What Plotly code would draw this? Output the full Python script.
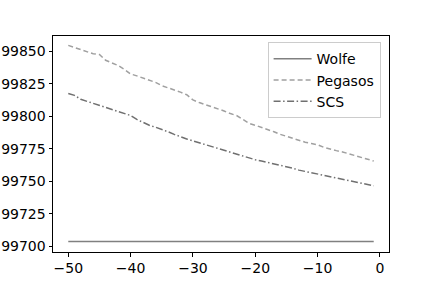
import plotly.graph_objects as go

x_vals = list(range(-50, 0))

wolfe = [0.997035] * 50

pegasos = [
    0.998545, 0.998530, 0.998515, 0.998495, 0.998480, 0.998475, 0.998430, 0.998410, 0.998390, 0.998360,
    0.998325, 0.998310, 0.998295, 0.998275, 0.998260, 0.998235, 0.998220, 0.998205, 0.998185, 0.998165,
    0.998125, 0.998105, 0.998090, 0.998075, 0.998055, 0.998040, 0.998020, 0.998005, 0.997975, 0.997945,
    0.997930, 0.997915, 0.997895, 0.997880, 0.997860, 0.997845, 0.997825, 0.997815, 0.997800, 0.997790,
    0.997780, 0.997760, 0.997745, 0.997735, 0.997725, 0.997710, 0.997695, 0.997680, 0.997670, 0.997655,
]

scs = [
    0.998175, 0.998160, 0.998130, 0.998115, 0.998100, 0.998085, 0.998070, 0.998055, 0.998040, 0.998025,
    0.998005, 0.997975, 0.997950, 0.997930, 0.997915, 0.997900, 0.997880, 0.997860, 0.997840, 0.997825,
    0.997810, 0.997795, 0.997780, 0.997765, 0.997750, 0.997735, 0.997720, 0.997710, 0.997695, 0.997680,
    0.997665, 0.997655, 0.997645, 0.997635, 0.997625, 0.997615, 0.997600, 0.997585, 0.997575, 0.997565,
    0.997555, 0.997545, 0.997530, 0.997520, 0.997510, 0.997500, 0.997490, 0.997480, 0.997475, 0.997465,
]

x_ticks = [-50, -40, -30, -20, -10, 0]
y_ticks = [0.99700, 0.99725, 0.99750, 0.99775, 0.99800, 0.99825, 0.99850]
# the reference shows only the trailing digits of the y tick labels
y_tick_labels = ["99700", "99725", "99750", "99775", "99800", "99825", "99850"]

fig = go.Figure()
fig.add_trace(go.Scatter(x=x_vals, y=wolfe, mode="lines", name="Wolfe",
                         line=dict(color="#808080", width=1.5, dash="solid")))
fig.add_trace(go.Scatter(x=x_vals, y=pegasos, mode="lines", name="Pegasos",
                         line=dict(color="#a0a0a0", width=1.5, dash="5px,3px")))
fig.add_trace(go.Scatter(x=x_vals, y=scs, mode="lines", name="SCS",
                         line=dict(color="#707070", width=1.5, dash="7px,2.5px,1.5px,2.5px")))

axis_common = dict(showline=True, mirror=True, linecolor="black", linewidth=1,
                   ticks="outside", ticklen=3.5, tickwidth=1, tickcolor="black",
                   showgrid=False, zeroline=False, automargin=False,
                   tickfont=dict(family="DejaVu Sans", size=14, color="black"))

fig.update_xaxes(range=[-52.45, 1.45], tickvals=x_ticks, **axis_common)
fig.update_yaxes(range=[0.996955, 0.998617], tickvals=y_ticks, ticktext=y_tick_labels,
                 **axis_common)

fig.update_layout(
    width=432, height=288,
    margin=dict(l=53, r=43, t=36, b=36, autoexpand=False),
    plot_bgcolor="white", paper_bgcolor="white",
    font=dict(family="DejaVu Sans", size=14, color="black"),
    showlegend=True,
    legend=dict(x=0.975, y=0.971, xanchor="right", yanchor="top",
                itemwidth=38,
                bgcolor="rgba(255,255,255,0.8)", bordercolor="#cccccc", borderwidth=1,
                font=dict(family="DejaVu Sans", size=14, color="black")),
)

fig.write_html("out.html", config={"displayModeBar": False},
               post_script="document.body.style.margin='0px';")
